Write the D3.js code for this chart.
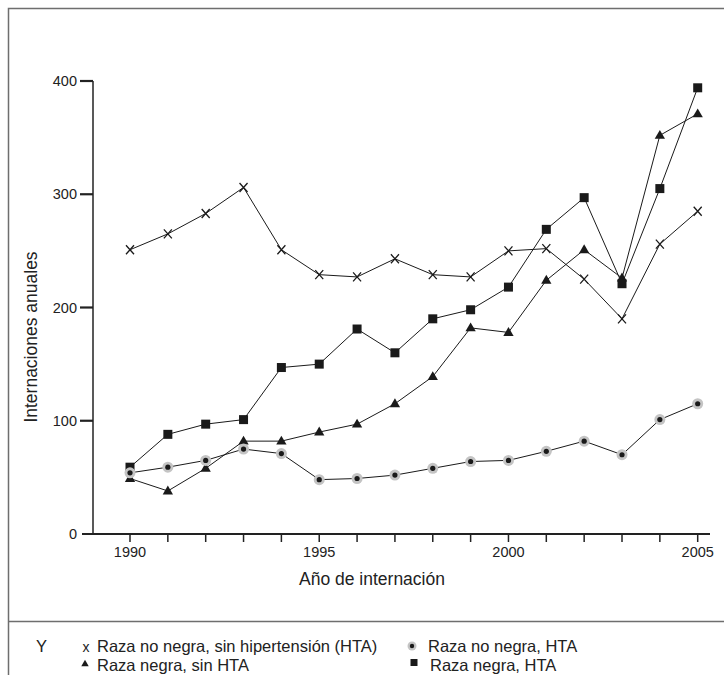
<!DOCTYPE html>
<html>
<head>
<meta charset="utf-8">
<script src="https://cdn.jsdelivr.net/npm/d3@7"></script>
<style>
  html, body { margin: 0; padding: 0; background: #fff; }
  svg { display: block; font-family: 'Liberation Sans', Arial, sans-serif; }
</style>
</head>
<body>
<div id="chart"></div>
<script>
// años de internación
const years = [1990, 1991, 1992, 1993, 1994, 1995, 1996, 1997, 1998, 1999, 2000, 2001, 2002, 2003, 2004, 2005]
const yearLabels = [1990, 1995, 2000, 2005]
const yTicks = [0, 100, 200, 300, 400]

// internaciones anuales por grupo
const noNegraSinHTA = [251, 265, 283, 306, 251, 229, 227, 243, 229, 227, 250, 252, 225, 190, 256, 285]
const noNegraHTA = [54, 59, 65, 75, 71, 48, 49, 52, 58, 64, 65, 73, 82, 70, 101, 115]
const negraSinHTA = [49, 38, 58, 82, 82, 90, 97, 115, 139, 182, 178, 224, 251, 226, 352, 371]
const negraHTA = [59, 88, 97, 101, 147, 150, 181, 160, 190, 198, 218, 269, 297, 221, 305, 394]

const W = 724
const H = 675

const svg = d3.select('#chart')
  .append('svg')
  .attr('width', W)
  .attr('height', H)

const x = d3.scaleLinear().domain([1990, 2005]).range([130, 697.7])
const y = d3.scaleLinear().domain([0, 400]).range([534, 81])

// marco
const frame = svg.append('g').attr('class', 'frame')
  .attr('stroke', '#6e6e6e').attr('stroke-width', 1.5).attr('fill', 'none')
frame.append('path').attr('d', `M${W},8.5H8.5V${H}`)
frame.append('line').attr('x1', 8.5).attr('x2', W).attr('y1', 621.5).attr('y2', 621.5)

// eje y
const yAxis = svg.append('g').attr('class', 'y-axis')
yAxis.append('line')
  .attr('x1', 93).attr('x2', 93)
  .attr('y1', y(400)).attr('y2', y(0))
  .attr('stroke', '#222').attr('stroke-width', 1.5)
yAxis.selectAll('.tick')
  .data(yTicks.filter(d => d > 0))
  .enter().append('line')
  .attr('x1', 80).attr('x2', 93)
  .attr('y1', d => y(d)).attr('y2', d => y(d))
  .attr('stroke', '#222').attr('stroke-width', 2.2)
yAxis.selectAll('.label')
  .data(yTicks)
  .enter().append('text')
  .attr('x', 77)
  .attr('y', d => y(d))
  .attr('dy', '0.35em')
  .attr('text-anchor', 'end')
  .attr('font-size', 14.5)
  .attr('fill', '#222')
  .text(d => d)

// eje x
const xAxis = svg.append('g').attr('class', 'x-axis')
xAxis.append('line')
  .attr('x1', 82).attr('x2', 710)
  .attr('y1', y(0)).attr('y2', y(0))
  .attr('stroke', '#222').attr('stroke-width', 2.2)
xAxis.selectAll('.tick')
  .data(years)
  .enter().append('line')
  .attr('x1', d => x(d)).attr('x2', d => x(d))
  .attr('y1', y(0)).attr('y2', y(0) + 8)
  .attr('stroke', '#222').attr('stroke-width', 1.5)
xAxis.selectAll('.label')
  .data(yearLabels)
  .enter().append('text')
  .attr('x', d => x(d))
  .attr('y', 557)
  .attr('text-anchor', 'middle')
  .attr('font-size', 14.5)
  .attr('fill', '#222')
  .text(d => d)

svg.append('text')
  .attr('x', 372).attr('y', 585)
  .attr('text-anchor', 'middle')
  .attr('font-size', 17.5)
  .attr('fill', '#222')
  .text('Año de internación')

svg.append('text')
  .attr('transform', 'translate(37,337) rotate(-90)')
  .attr('text-anchor', 'middle')
  .attr('font-size', 17.5)
  .attr('fill', '#222')
  .text('Internaciones anuales')

// series
const series = [
  { key: 'x', values: noNegraSinHTA },
  { key: 'square', values: negraHTA },
  { key: 'triangle', values: negraSinHTA },
  { key: 'circle', values: noNegraHTA }
]

const line = d3.line()
  .x((d, i) => x(years[i]))
  .y(d => y(d))

const plot = svg.append('g').attr('class', 'plot')

plot.selectAll('.series-line')
  .data(series)
  .enter().append('path')
  .attr('class', 'series-line')
  .attr('d', s => line(s.values))
  .attr('fill', 'none')
  .attr('stroke', '#1a1a1a')
  .attr('stroke-width', 1)

function drawMarker (g, key, cx, cy) {
  if (key === 'x') {
    g.append('path')
      .attr('d', `M${cx - 4},${cy - 4.5}L${cx + 4},${cy + 4.5}M${cx + 4},${cy - 4.5}L${cx - 4},${cy + 4.5}`)
      .attr('stroke', '#1a1a1a').attr('stroke-width', 1.3).attr('fill', 'none')
  } else if (key === 'square') {
    g.append('rect')
      .attr('x', cx - 4.5).attr('y', cy - 4.5)
      .attr('width', 9).attr('height', 9)
      .attr('fill', '#1a1a1a')
  } else if (key === 'triangle') {
    g.append('path')
      .attr('d', d3.symbol(d3.symbolTriangle, 46)())
      .attr('transform', `translate(${cx},${cy + 0.5})`)
      .attr('fill', '#1a1a1a')
  } else {
    g.append('circle').attr('cx', cx).attr('cy', cy).attr('r', 5.5).attr('fill', '#c4c4c4')
    g.append('circle').attr('cx', cx).attr('cy', cy).attr('r', 2.6).attr('fill', '#1a1a1a')
  }
}

series.forEach(s => {
  const g = plot.append('g').attr('class', `markers ${s.key}`)
  s.values.forEach((v, i) => drawMarker(g, s.key, x(years[i]), y(v)))
})

// leyenda
const legend = svg.append('g').attr('class', 'legend')
  .attr('font-size', 16.5).attr('fill', '#222')

legend.append('text').attr('x', 36).attr('y', 652).text('Y')

const legendItems = [
  { key: 'xtext', label: 'Raza no negra, sin hipertensión (HTA)', mx: 86, tx: 97, ty: 652 },
  { key: 'circle', label: 'Raza no negra, HTA', mx: 412, tx: 428, ty: 652 },
  { key: 'triangle', label: 'Raza negra, sin HTA', mx: 85, tx: 97, ty: 671 },
  { key: 'square', label: 'Raza negra, HTA', mx: 414, tx: 430, ty: 671 }
]

legendItems.forEach(item => {
  const g = legend.append('g')
  if (item.key === 'xtext') {
    g.append('text').attr('x', item.mx).attr('y', item.ty).attr('text-anchor', 'middle')
      .attr('font-size', 14).text('x')
  } else if (item.key === 'circle') {
    g.append('circle').attr('cx', item.mx).attr('cy', item.ty - 6).attr('r', 4.5).attr('fill', '#c4c4c4')
    g.append('circle').attr('cx', item.mx).attr('cy', item.ty - 6).attr('r', 2.2).attr('fill', '#1a1a1a')
  } else if (item.key === 'triangle') {
    g.append('path').attr('d', d3.symbol(d3.symbolTriangle, 24)())
      .attr('transform', `translate(${item.mx},${item.ty - 7})`).attr('fill', '#1a1a1a')
  } else {
    g.append('rect').attr('x', item.mx - 3.5).attr('y', item.ty - 12).attr('width', 7).attr('height', 7)
      .attr('fill', '#1a1a1a')
  }
  g.append('text').attr('x', item.tx).attr('y', item.ty).text(item.label)
})
</script>
</body>
</html>
